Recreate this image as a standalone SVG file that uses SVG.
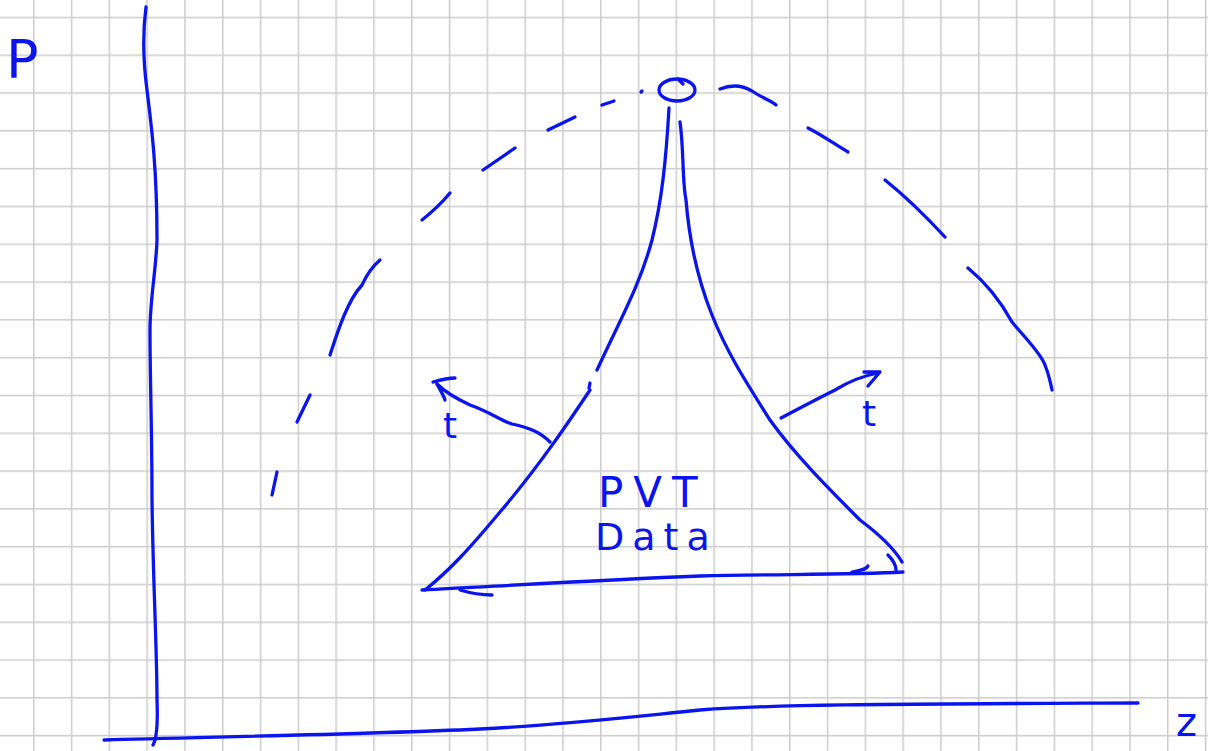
<svg xmlns="http://www.w3.org/2000/svg" width="1208" height="751" viewBox="0 0 1208 751">
<defs>
<pattern id="grid" x="33" y="16.7" width="37.8" height="37.8" patternUnits="userSpaceOnUse">
<path d="M0 0 H37.8 M0 0 V37.8" fill="none" stroke="#cccccc" stroke-width="3"/>
</pattern>
</defs>
<style>
.ink{fill:none;stroke:#0a14f0;stroke-width:3.3;stroke-linecap:round;stroke-linejoin:round}
.lbl{fill:#0a14f0;font-family:"DejaVu Sans","Liberation Sans",sans-serif}
</style>
<rect width="1208" height="751" fill="#ffffff"/>
<rect width="1208" height="751" fill="url(#grid)"/>
<g id="axes">
<path class="ink" d="M146 7 C143 30 143 60 147 90 C152 130 157 170 157 240 C156 270 150 300 150 330 C150 380 152 430 152 500 C153 580 157 650 157 700 C158 725 157 738 153 745"/>
<path class="ink" d="M104 740 C200 737 350 735 480 729 C560 725 620 718 700 710 C780 704 900 704 1138 703"/>
<text class="lbl" x="6" y="78" font-size="54">P</text>
<text class="lbl" x="1176" y="736" font-size="40">z</text>
</g>
<g id="dome">
<path class="ink" d="M272 495 L277 472"/>
<path class="ink" d="M297 422 L310 395"/>
<path class="ink" d="M330 355 C338 330 348 300 362 285 C368 272 374 265 380 260"/>
<path class="ink" d="M422 220 C432 212 440 205 450 193"/>
<path class="ink" d="M483 170 L515 148"/>
<path class="ink" d="M548 130 L575 117"/>
<path class="ink" d="M602 105 L614 101"/>
<path class="ink" d="M641 92 L642 91"/>
<path class="ink" d="M720 89 C730 85 742 85 752 91 C762 98 770 100 776 105"/>
<path class="ink" d="M808 128 C822 135 836 145 848 152"/>
<path class="ink" d="M885 180 C900 192 920 210 945 237"/>
<path class="ink" d="M968 268 C985 282 1000 300 1012 322 C1025 338 1040 352 1045 365 C1049 375 1051 385 1052 390"/>
</g>
<g id="critical-point">
<ellipse class="ink" cx="677" cy="90" rx="18" ry="11"/>
<path class="ink" d="M678 79 L683 84"/>
</g>
<g id="triangle">
<path class="ink" d="M669 108 C666 160 662 200 652 240 C640 285 620 320 597 370"/>
<path class="ink" d="M590 383 L589 388"/>
<path class="ink" d="M590 390 C570 420 540 465 500 512 C470 548 450 570 425 590"/>
<path class="ink" d="M680 122 C684 150 682 180 686 200 C690 250 700 285 712 315 C728 355 748 385 770 420 C795 455 830 490 860 520 C880 535 895 550 902 562"/>
<path class="ink" d="M888 555 C893 560 896 566 896 570"/>
<path class="ink" d="M422 590 C500 586 600 580 700 576 C780 574 850 575 903 572"/>
<path class="ink" d="M460 590 C470 593 480 595 492 595"/>
<path class="ink" d="M852 572 C860 570 866 570 868 566"/>
</g>
<g id="connectors">
<path class="ink" d="M550 442 C540 432 530 428 512 424 C500 420 490 412 470 405 C455 398 445 392 437 384"/>
<path class="ink" d="M433 382 C440 380 448 378 455 378"/>
<path class="ink" d="M437 384 C440 390 444 396 445 400"/>
<path class="ink" d="M781 418 C800 408 815 400 835 390 C848 382 862 376 878 373"/>
<path class="ink" d="M864 372 L880 372 L868 386"/>
</g>
<g id="labels">
<text class="lbl" x="443" y="438" font-size="36">t</text>
<text class="lbl" x="862" y="426" font-size="36">t</text>
<text class="lbl" x="598" y="507" font-size="42" letter-spacing="10">PVT</text>
<text class="lbl" x="595" y="550" font-size="38" letter-spacing="8">Data</text>
</g>
</svg>
